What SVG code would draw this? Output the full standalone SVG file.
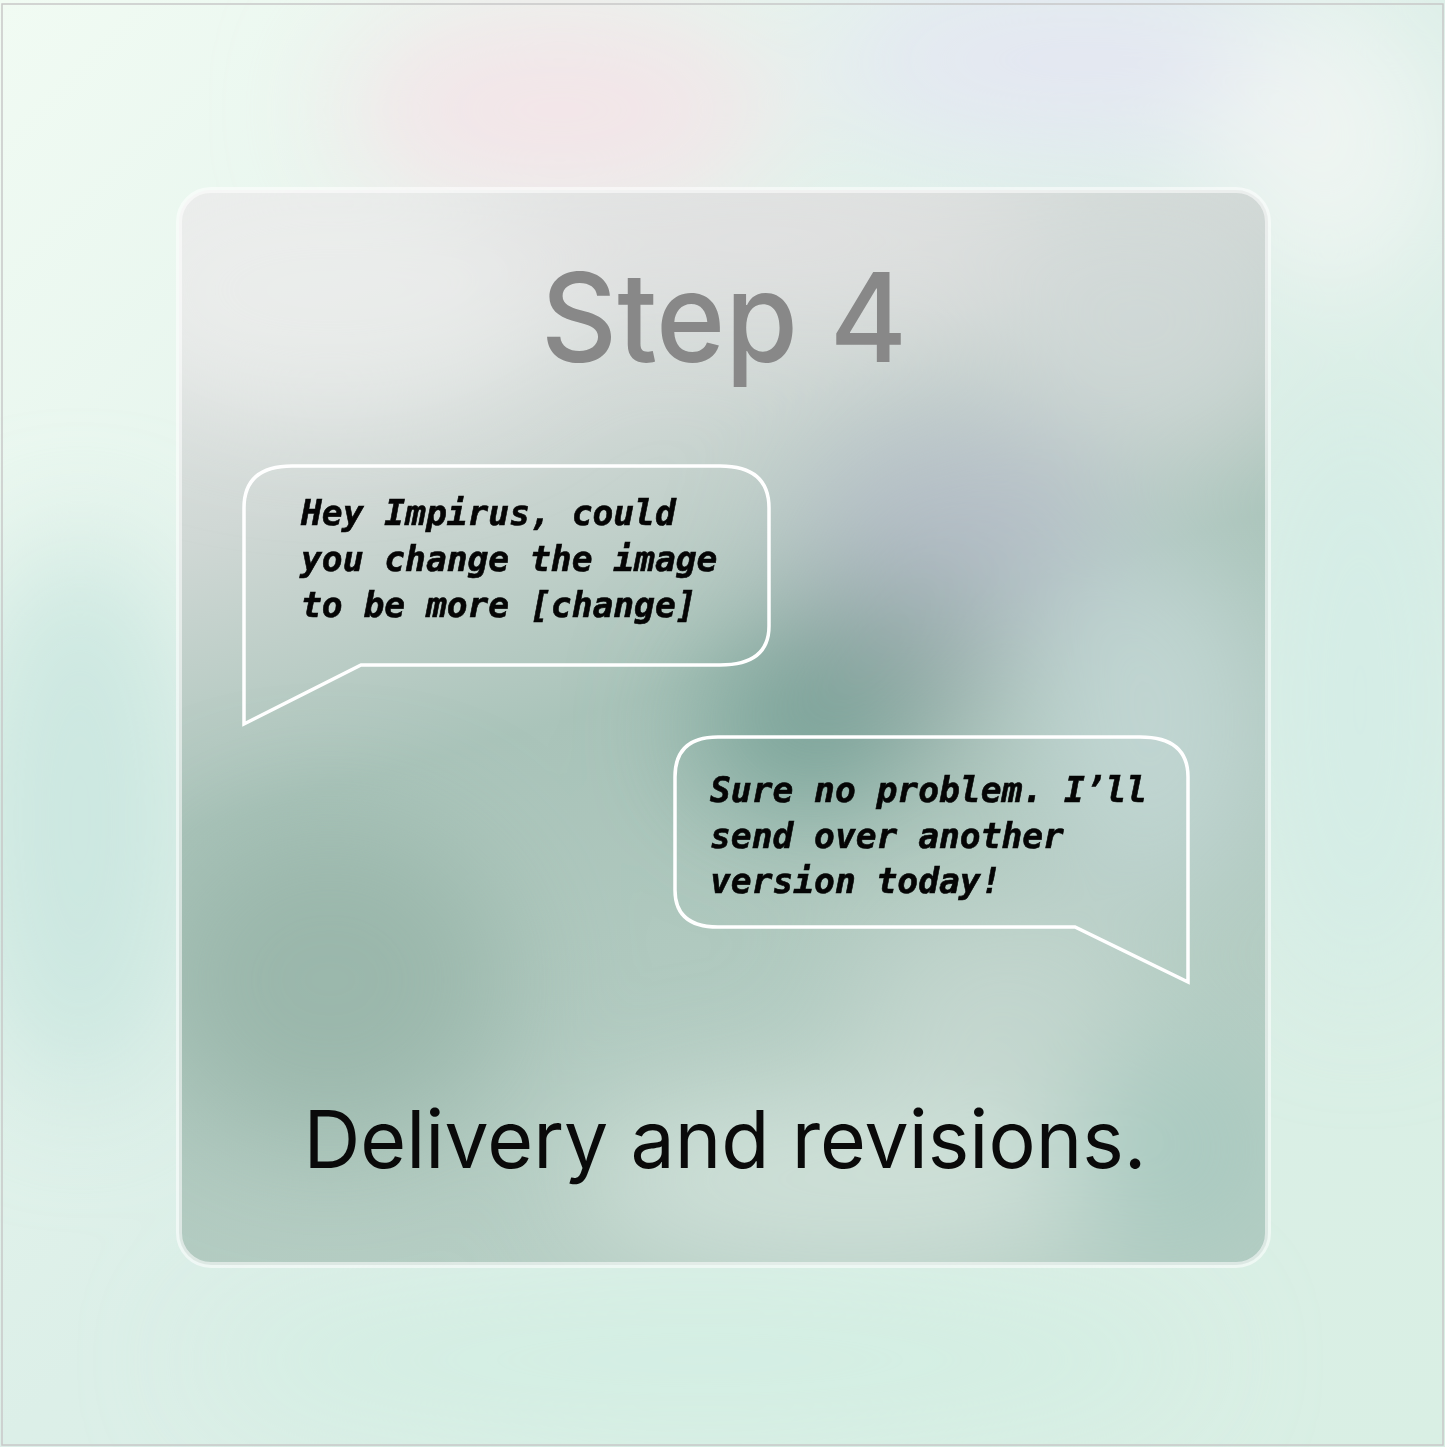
<svg xmlns="http://www.w3.org/2000/svg" width="1445" height="1447" viewBox="0 0 1445 1447">
<defs>
<style>
.bubble{fill:none;stroke:#ffffff;stroke-width:3.5;stroke-linejoin:miter}
.mono{font-family:"DejaVu Sans Mono","Liberation Mono",monospace;font-weight:bold;font-style:italic;font-size:34.6px;fill:#050505;stroke:#050505;stroke-width:0.6}
.title{font-family:Inter,"Liberation Sans",sans-serif;font-size:124px;fill:#888888;font-weight:500}
.caption{font-family:Inter,"Liberation Sans",sans-serif;font-size:80px;fill:#0a0a0a}
</style>
<filter id="blur" x="-50%" y="-50%" width="200%" height="200%"><feGaussianBlur stdDeviation="60"/></filter>
<linearGradient id="bg" x1="0" y1="0" x2="1" y2="1">
<stop offset="0" stop-color="#f1fbf3"/>
<stop offset="0.5" stop-color="#dcefe8"/>
<stop offset="1" stop-color="#d9efe4"/>
</linearGradient>
<linearGradient id="card" x1="0" y1="0" x2="0.3" y2="1">
<stop offset="0" stop-color="#e9ebea"/>
<stop offset="0.3" stop-color="#d0d8d5"/>
<stop offset="0.55" stop-color="#aac4ba"/>
<stop offset="1" stop-color="#b6cec4"/>
</linearGradient>
<clipPath id="cardclip"><rect x="179" y="190" width="1089" height="1075" rx="32"/></clipPath>
</defs>
<g id="background">
<rect x="0" y="0" width="1445" height="1447" fill="url(#bg)"/>
<g filter="url(#blur)">
<ellipse cx="560" cy="110" rx="220" ry="110" fill="#f4e3e8" opacity="0.9"/>
<ellipse cx="1080" cy="60" rx="260" ry="90" fill="#e4e6f3" opacity="0.9"/>
<ellipse cx="80" cy="820" rx="120" ry="280" fill="#c9e6df" opacity="0.9"/>
<ellipse cx="1360" cy="700" rx="110" ry="300" fill="#d3ece6" opacity="0.8"/>
<ellipse cx="700" cy="1360" rx="500" ry="90" fill="#d2ede2" opacity="0.8"/>
<ellipse cx="1330" cy="150" rx="120" ry="150" fill="#f2f6f4" opacity="0.8"/>
</g>
<rect x="2" y="4" width="1441" height="1441" fill="none" stroke="#c8c8c8" stroke-width="1.5"/>
</g>
<g id="card">
<rect x="179" y="190" width="1089" height="1075" rx="32" fill="url(#card)"/>
<g clip-path="url(#cardclip)">
<g filter="url(#blur)">
<ellipse cx="330" cy="290" rx="240" ry="130" fill="#eff1ef" opacity="0.7"/>
<ellipse cx="760" cy="240" rx="300" ry="80" fill="#e6e3e5" opacity="0.6"/>
<ellipse cx="1150" cy="320" rx="160" ry="140" fill="#d3dad9" opacity="0.7"/>
<ellipse cx="960" cy="530" rx="160" ry="110" fill="#b5bbc9" opacity="0.75"/>
<ellipse cx="880" cy="660" rx="120" ry="90" fill="#93a7a6" opacity="0.85"/>
<ellipse cx="800" cy="730" rx="110" ry="80" fill="#6f9c91" opacity="0.85"/>
<ellipse cx="1150" cy="720" rx="120" ry="180" fill="#c2d6d4" opacity="0.9"/>
<ellipse cx="330" cy="980" rx="180" ry="160" fill="#96b4a8" opacity="0.85"/>
<ellipse cx="850" cy="1180" rx="280" ry="90" fill="#d2e2da" opacity="0.9"/>
<ellipse cx="1180" cy="1150" rx="110" ry="120" fill="#a8c9c0" opacity="0.85"/>
<ellipse cx="1000" cy="1000" rx="150" ry="100" fill="#c7d8d1" opacity="0.8"/>
</g>
</g>
<rect x="179" y="190" width="1089" height="1075" rx="32" fill="none" stroke="#ffffff" stroke-opacity="0.55" stroke-width="6"/>
</g>
<g id="title">
<text class="title" x="724" y="362" text-anchor="middle" textLength="366" lengthAdjust="spacingAndGlyphs">Step 4</text>
</g>
<g id="bubble-request">
<path class="bubble" d="M244 724 L244 508 Q244 466 292 466 L720 466 Q769 466 769 508 L769 626 Q769 665 720 665 L361 665 Z"/>
<text class="mono" x="301" y="525">Hey Impirus, could</text>
<text class="mono" x="301" y="571">you change the image</text>
<text class="mono" x="301" y="617">to be more [change]</text>
</g>
<g id="bubble-reply">
<path class="bubble" d="M1188 982 L1188 777 Q1188 737 1140 737 L718 737 Q675 737 675 777 L675 890 Q675 927 718 927 L1075 927 Z"/>
<text class="mono" x="710" y="802">Sure no problem. I’ll</text>
<text class="mono" x="710" y="848">send over another</text>
<text class="mono" x="710" y="893">version today!</text>
</g>
<g id="caption">
<text class="caption" x="725" y="1168" text-anchor="middle" textLength="843" lengthAdjust="spacingAndGlyphs">Delivery and revisions.</text>
</g>
</svg>
